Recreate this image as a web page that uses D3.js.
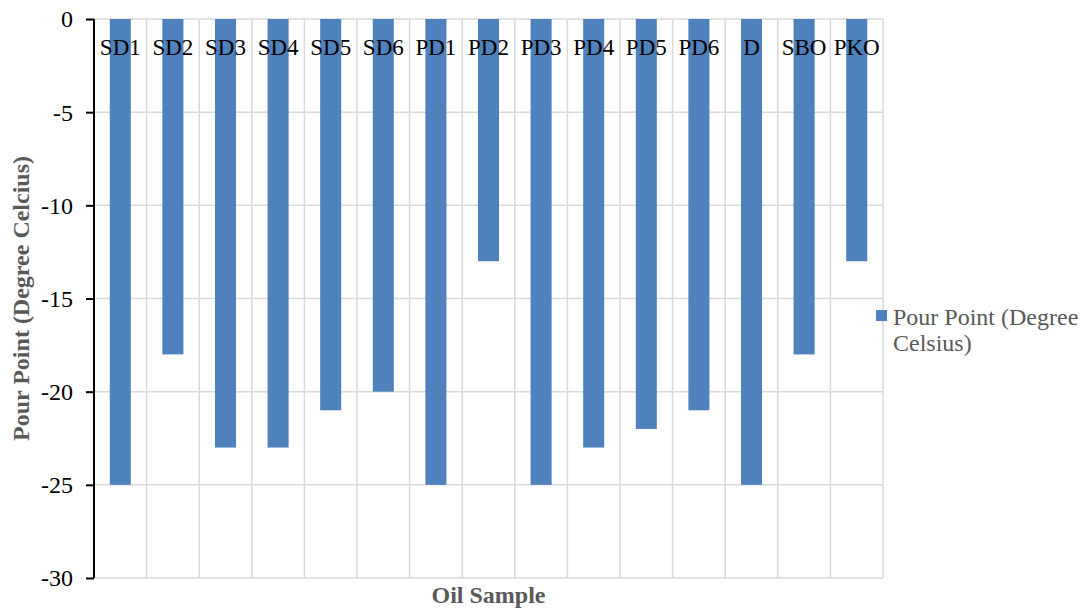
<!DOCTYPE html>
<html>
<head>
<meta charset="utf-8">
<script src="https://cdn.jsdelivr.net/npm/d3@7"></script>
<style>
  html, body { margin: 0; padding: 0; background: #fff; }
  svg { display: block; }
  svg text { font-family: "Liberation Serif", "Times New Roman", serif !important; }
</style>
</head>
<body>
<svg id="chart" width="1082" height="610"></svg>
<script>
// Pour point of each oil sample
const samples = ["SD1","SD2","SD3","SD4","SD5","SD6","PD1","PD2","PD3","PD4","PD5","PD6","D","SBO","PKO"];
const pourPoint = [-25,-18,-23,-23,-21,-20,-25,-13,-25,-23,-22,-21,-25,-18,-13];
const yTicks = [0,-5,-10,-15,-20,-25,-30];
const seriesName = ["Pour Point (Degree", "Celsius)"];

const FONT = "'Liberation Serif', 'Times New Roman', serif";
const svg = d3.select("#chart");
const plot = { left: 94, right: 883, top: 19, bottom: 578 };

const x = d3.scaleBand().domain(samples).range([plot.left, plot.right]).paddingInner(0).paddingOuter(0);
const y = d3.scaleLinear().domain([0, -30]).range([plot.top, plot.bottom]);
const barW = x.bandwidth() * 0.4;

// horizontal gridlines
svg.append("g").selectAll("line").data(yTicks).join("line")
  .attr("x1", plot.left).attr("x2", plot.right)
  .attr("y1", d => y(d)).attr("y2", d => y(d))
  .attr("stroke", "#d9d9d9").attr("stroke-width", 1.5);

// vertical gridlines between categories
svg.append("g").selectAll("line").data(samples).join("line")
  .attr("x1", d => x(d) + x.bandwidth()).attr("x2", d => x(d) + x.bandwidth())
  .attr("y1", plot.top).attr("y2", plot.bottom)
  .attr("stroke", "#d9d9d9").attr("stroke-width", 1.5);

// bars
svg.append("g").selectAll("rect").data(samples).join("rect")
  .attr("x", (d) => x(d) + (x.bandwidth() - barW) / 2)
  .attr("y", y(0))
  .attr("width", barW)
  .attr("height", (d, i) => y(pourPoint[i]) - y(0))
  .attr("fill", "#4f81bd");

// category labels inside the top of the plot
svg.append("g").selectAll("text").data(samples).join("text")
  .attr("x", d => x(d) + x.bandwidth() / 2)
  .attr("y", 55)
  .attr("text-anchor", "middle")
  .style("font-family", FONT)
  .attr("font-size", 23)
  .attr("fill", "#000")
  .text(d => d);

// y axis
const yAxis = d3.axisLeft(y).tickValues(yTicks).tickSize(8).tickPadding(13).tickFormat(d => String(d));
const ga = svg.append("g").attr("transform", `translate(${plot.left},0)`).call(yAxis);
ga.select(".domain").attr("stroke", "#000").attr("stroke-width", 2).attr("d", `M0,${y(0)}V${y(-30)}`);
ga.selectAll(".tick line").attr("stroke", "#000").attr("stroke-width", 2);
ga.selectAll(".tick text")
  .style("font-family", FONT)
  .attr("font-size", 24).attr("fill", "#000").attr("dy", "0.33em");

// axis titles
svg.append("text")
  .attr("transform", `translate(29,${(plot.top + plot.bottom) / 2}) rotate(-90)`)
  .attr("text-anchor", "middle")
  .style("font-family", FONT)
  .attr("font-size", 24).attr("font-weight", "bold").attr("fill", "#595959")
  .text("Pour Point (Degree Celcius)");

svg.append("text")
  .attr("x", (plot.left + plot.right) / 2).attr("y", 603)
  .attr("text-anchor", "middle")
  .style("font-family", FONT)
  .attr("font-size", 24).attr("font-weight", "bold").attr("fill", "#595959")
  .text("Oil Sample");

// legend
const lg = svg.append("g");
lg.append("rect").attr("x", 876).attr("y", 310).attr("width", 11).attr("height", 11).attr("fill", "#4f81bd");
lg.selectAll("text").data(seriesName).join("text")
  .attr("x", 893).attr("y", (d, i) => 325 + i * 26)
  .style("font-family", FONT)
  .attr("font-size", 24).attr("fill", "#595959")
  .text(d => d);
</script>
</body>
</html>
